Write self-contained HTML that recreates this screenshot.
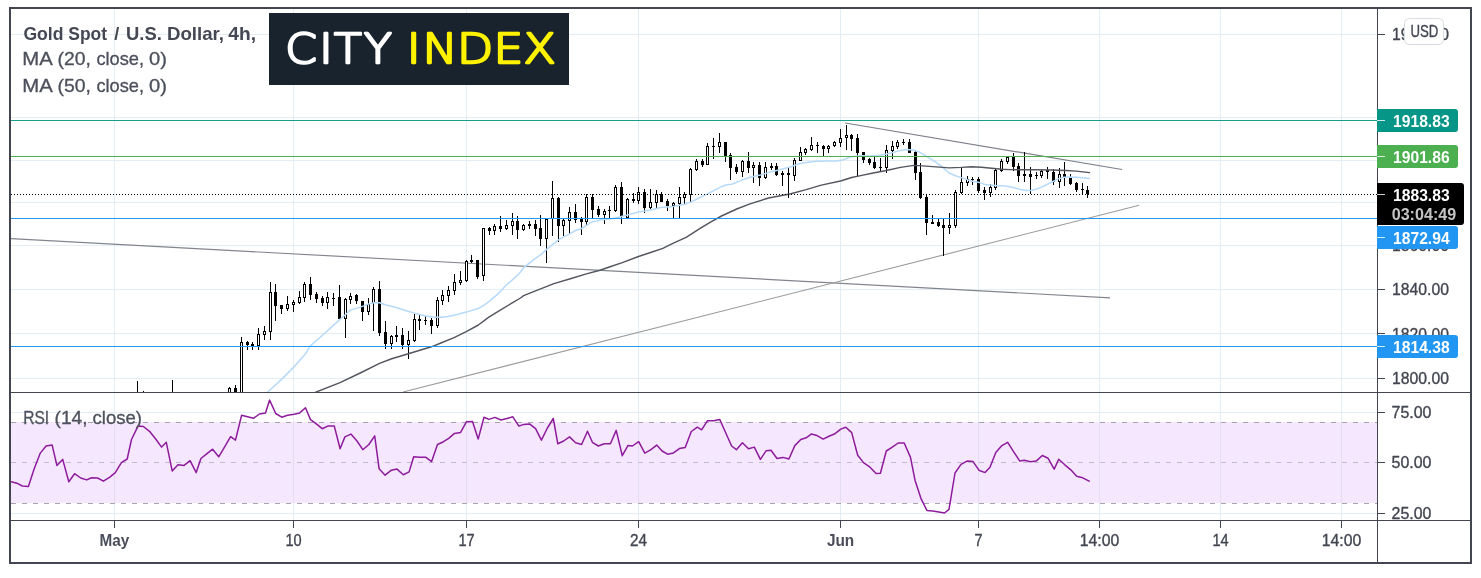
<!DOCTYPE html>
<html lang="en"><head><meta charset="utf-8"><title>Gold Spot / U.S. Dollar, 4h</title>
<style>html,body{margin:0;padding:0;background:#fff}body{width:1481px;height:578px;overflow:hidden}svg{display:block}text{white-space:pre}</style>
</head><body>
<svg width="1481" height="578" viewBox="0 0 1481 578" font-family="'Liberation Sans', Arial, sans-serif">
<rect width="1481" height="578" fill="#fff"/>
<defs><clipPath id="cm"><rect x="11" y="9" width="1366" height="383"/></clipPath><clipPath id="cr"><rect x="11" y="393" width="1366" height="127"/></clipPath></defs>
<g fill="#e3edf3" shape-rendering="crispEdges">
<rect x="114" y="9" width="1" height="511"/>
<rect x="293" y="9" width="1" height="511"/>
<rect x="466" y="9" width="1" height="511"/>
<rect x="638" y="9" width="1" height="511"/>
<rect x="840" y="9" width="1" height="511"/>
<rect x="978" y="9" width="1" height="511"/>
<rect x="1099" y="9" width="1" height="511"/>
<rect x="1220" y="9" width="1" height="511"/>
<rect x="1341" y="9" width="1" height="511"/>
<rect x="11" y="34" width="1366" height="1"/>
<rect x="11" y="117" width="1366" height="1"/>
<rect x="11" y="160" width="1366" height="1"/>
<rect x="11" y="202" width="1366" height="1"/>
<rect x="11" y="245" width="1366" height="1"/>
<rect x="11" y="289" width="1366" height="1"/>
<rect x="11" y="333" width="1366" height="1"/>
<rect x="11" y="378" width="1366" height="1"/>
<rect x="11" y="412" width="1366" height="1"/>
<rect x="11" y="462" width="1366" height="1"/>
<rect x="11" y="513" width="1366" height="1"/>
</g>
<rect x="11" y="422" width="1366" height="81" fill="#f5e7fe"/>
<g fill="#e4dcf1" shape-rendering="crispEdges">
<rect x="114" y="422" width="1" height="81"/>
<rect x="293" y="422" width="1" height="81"/>
<rect x="466" y="422" width="1" height="81"/>
<rect x="638" y="422" width="1" height="81"/>
<rect x="840" y="422" width="1" height="81"/>
<rect x="978" y="422" width="1" height="81"/>
<rect x="1099" y="422" width="1" height="81"/>
<rect x="1220" y="422" width="1" height="81"/>
<rect x="1341" y="422" width="1" height="81"/>
</g>
<g stroke="#a6a4ac" stroke-width="1" stroke-dasharray="5 6" shape-rendering="crispEdges">
<line x1="11" y1="422.5" x2="1377" y2="422.5"/>
<line x1="11" y1="503.5" x2="1377" y2="503.5"/>
<line x1="11" y1="462.5" x2="1377" y2="462.5" stroke="#c3bccf"/>
</g>
<g clip-path="url(#cm)">
<g stroke="#8a8c95" stroke-width="1.2" fill="none">
<line x1="10" y1="238.6" x2="1110" y2="297.8" stroke="#83858e" stroke-width="1.2"/>
<line x1="403" y1="392" x2="1139.2" y2="205.3" stroke="#9b9b9b" stroke-width="1.1"/>
<line x1="845.3" y1="123" x2="1122" y2="169.5" stroke="#7f818b" stroke-width="1.2"/>
</g>
<g shape-rendering="crispEdges" fill="#000">
<rect x="137" y="381" width="1" height="12"/>
<rect x="143" y="391" width="1" height="2"/>
<rect x="172" y="380" width="1" height="13"/>
<rect x="229" y="387" width="1" height="6"/>
<rect x="228" y="388" width="3" height="5"/>
<rect x="229" y="389" width="1" height="3" fill="#fff"/>
<rect x="235" y="385" width="1" height="8"/>
<rect x="234" y="388" width="3" height="5"/>
<rect x="241" y="337" width="1" height="56"/>
<rect x="240" y="342" width="3" height="51"/>
<rect x="241" y="343" width="1" height="49" fill="#fff"/>
<rect x="247" y="341" width="1" height="9"/>
<rect x="246" y="342" width="3" height="3"/>
<rect x="252" y="342" width="1" height="8"/>
<rect x="251" y="344" width="3" height="2"/>
<rect x="258" y="328" width="1" height="22"/>
<rect x="257" y="334" width="3" height="12"/>
<rect x="258" y="335" width="1" height="10" fill="#fff"/>
<rect x="264" y="326" width="1" height="14"/>
<rect x="263" y="331" width="3" height="4"/>
<rect x="264" y="332" width="1" height="2" fill="#fff"/>
<rect x="270" y="282" width="1" height="58"/>
<rect x="269" y="292" width="3" height="40"/>
<rect x="270" y="293" width="1" height="38" fill="#fff"/>
<rect x="275" y="284" width="1" height="37"/>
<rect x="274" y="292" width="3" height="14"/>
<rect x="281" y="305" width="1" height="9"/>
<rect x="280" y="305" width="3" height="4"/>
<rect x="287" y="296" width="1" height="15"/>
<rect x="286" y="304" width="3" height="5"/>
<rect x="287" y="305" width="1" height="3" fill="#fff"/>
<rect x="293" y="300" width="1" height="12"/>
<rect x="292" y="302" width="3" height="3"/>
<rect x="293" y="303" width="1" height="1" fill="#fff"/>
<rect x="299" y="291" width="1" height="13"/>
<rect x="298" y="297" width="3" height="6"/>
<rect x="299" y="298" width="1" height="4" fill="#fff"/>
<rect x="304" y="282" width="1" height="20"/>
<rect x="303" y="284" width="3" height="14"/>
<rect x="304" y="285" width="1" height="12" fill="#fff"/>
<rect x="310" y="277" width="1" height="23"/>
<rect x="309" y="284" width="3" height="11"/>
<rect x="316" y="292" width="1" height="11"/>
<rect x="315" y="294" width="3" height="5"/>
<rect x="322" y="296" width="1" height="10"/>
<rect x="321" y="298" width="3" height="5"/>
<rect x="327" y="292" width="1" height="17"/>
<rect x="326" y="297" width="3" height="6"/>
<rect x="327" y="298" width="1" height="4" fill="#fff"/>
<rect x="333" y="293" width="1" height="13"/>
<rect x="332" y="298" width="3" height="1"/>
<rect x="339" y="285" width="1" height="34"/>
<rect x="338" y="297" width="3" height="22"/>
<rect x="345" y="298" width="1" height="40"/>
<rect x="344" y="299" width="3" height="20"/>
<rect x="345" y="300" width="1" height="18" fill="#fff"/>
<rect x="350" y="293" width="1" height="11"/>
<rect x="349" y="296" width="3" height="4"/>
<rect x="350" y="297" width="1" height="2" fill="#fff"/>
<rect x="356" y="294" width="1" height="10"/>
<rect x="355" y="295" width="3" height="6"/>
<rect x="362" y="301" width="1" height="20"/>
<rect x="361" y="301" width="3" height="11"/>
<rect x="368" y="298" width="1" height="17"/>
<rect x="367" y="304" width="3" height="8"/>
<rect x="368" y="305" width="1" height="6" fill="#fff"/>
<rect x="373" y="287" width="1" height="44"/>
<rect x="372" y="289" width="3" height="14"/>
<rect x="373" y="290" width="1" height="12" fill="#fff"/>
<rect x="379" y="281" width="1" height="55"/>
<rect x="378" y="289" width="3" height="44"/>
<rect x="385" y="321" width="1" height="28"/>
<rect x="384" y="332" width="3" height="12"/>
<rect x="391" y="335" width="1" height="14"/>
<rect x="390" y="336" width="3" height="8"/>
<rect x="391" y="337" width="1" height="6" fill="#fff"/>
<rect x="396" y="326" width="1" height="16"/>
<rect x="395" y="335" width="3" height="2"/>
<rect x="402" y="328" width="1" height="21"/>
<rect x="401" y="335" width="3" height="10"/>
<rect x="408" y="331" width="1" height="28"/>
<rect x="407" y="340" width="3" height="5"/>
<rect x="408" y="341" width="1" height="3" fill="#fff"/>
<rect x="414" y="314" width="1" height="28"/>
<rect x="413" y="319" width="3" height="22"/>
<rect x="414" y="320" width="1" height="20" fill="#fff"/>
<rect x="419" y="315" width="1" height="15"/>
<rect x="418" y="319" width="3" height="2"/>
<rect x="425" y="316" width="1" height="9"/>
<rect x="424" y="320" width="3" height="1"/>
<rect x="431" y="318" width="1" height="16"/>
<rect x="430" y="320" width="3" height="6"/>
<rect x="437" y="297" width="1" height="31"/>
<rect x="436" y="300" width="3" height="26"/>
<rect x="437" y="301" width="1" height="24" fill="#fff"/>
<rect x="442" y="290" width="1" height="15"/>
<rect x="441" y="295" width="3" height="6"/>
<rect x="442" y="296" width="1" height="4" fill="#fff"/>
<rect x="448" y="286" width="1" height="16"/>
<rect x="447" y="290" width="3" height="6"/>
<rect x="448" y="291" width="1" height="4" fill="#fff"/>
<rect x="454" y="274" width="1" height="21"/>
<rect x="453" y="282" width="3" height="9"/>
<rect x="454" y="283" width="1" height="7" fill="#fff"/>
<rect x="460" y="271" width="1" height="14"/>
<rect x="459" y="280" width="3" height="3"/>
<rect x="460" y="281" width="1" height="1" fill="#fff"/>
<rect x="466" y="260" width="1" height="22"/>
<rect x="465" y="261" width="3" height="20"/>
<rect x="466" y="262" width="1" height="18" fill="#fff"/>
<rect x="471" y="255" width="1" height="8"/>
<rect x="470" y="260" width="3" height="2"/>
<rect x="477" y="260" width="1" height="19"/>
<rect x="476" y="260" width="3" height="17"/>
<rect x="483" y="228" width="1" height="53"/>
<rect x="482" y="228" width="3" height="48"/>
<rect x="483" y="229" width="1" height="46" fill="#fff"/>
<rect x="489" y="227" width="1" height="8"/>
<rect x="488" y="228" width="3" height="3"/>
<rect x="494" y="224" width="1" height="11"/>
<rect x="493" y="226" width="3" height="5"/>
<rect x="494" y="227" width="1" height="3" fill="#fff"/>
<rect x="500" y="216" width="1" height="16"/>
<rect x="499" y="226" width="3" height="3"/>
<rect x="506" y="220" width="1" height="10"/>
<rect x="505" y="225" width="3" height="4"/>
<rect x="506" y="226" width="1" height="2" fill="#fff"/>
<rect x="512" y="213" width="1" height="22"/>
<rect x="511" y="221" width="3" height="5"/>
<rect x="512" y="222" width="1" height="3" fill="#fff"/>
<rect x="517" y="216" width="1" height="23"/>
<rect x="516" y="221" width="3" height="9"/>
<rect x="523" y="224" width="1" height="7"/>
<rect x="522" y="225" width="3" height="5"/>
<rect x="523" y="226" width="1" height="3" fill="#fff"/>
<rect x="529" y="221" width="1" height="8"/>
<rect x="528" y="224" width="3" height="2"/>
<rect x="535" y="220" width="1" height="16"/>
<rect x="534" y="224" width="3" height="5"/>
<rect x="540" y="215" width="1" height="31"/>
<rect x="539" y="228" width="3" height="11"/>
<rect x="546" y="218" width="1" height="45"/>
<rect x="545" y="219" width="3" height="20"/>
<rect x="546" y="220" width="1" height="18" fill="#fff"/>
<rect x="552" y="181" width="1" height="55"/>
<rect x="551" y="198" width="3" height="21"/>
<rect x="552" y="199" width="1" height="19" fill="#fff"/>
<rect x="558" y="197" width="1" height="45"/>
<rect x="557" y="198" width="3" height="28"/>
<rect x="563" y="219" width="1" height="17"/>
<rect x="562" y="220" width="3" height="6"/>
<rect x="563" y="221" width="1" height="4" fill="#fff"/>
<rect x="569" y="207" width="1" height="27"/>
<rect x="568" y="212" width="3" height="9"/>
<rect x="569" y="213" width="1" height="7" fill="#fff"/>
<rect x="575" y="204" width="1" height="19"/>
<rect x="574" y="212" width="3" height="8"/>
<rect x="581" y="217" width="1" height="18"/>
<rect x="580" y="219" width="3" height="3"/>
<rect x="586" y="194" width="1" height="31"/>
<rect x="585" y="197" width="3" height="25"/>
<rect x="586" y="198" width="1" height="23" fill="#fff"/>
<rect x="592" y="194" width="1" height="24"/>
<rect x="591" y="197" width="3" height="13"/>
<rect x="598" y="206" width="1" height="11"/>
<rect x="597" y="209" width="3" height="6"/>
<rect x="604" y="209" width="1" height="15"/>
<rect x="603" y="211" width="3" height="4"/>
<rect x="604" y="212" width="1" height="2" fill="#fff"/>
<rect x="609" y="206" width="1" height="13"/>
<rect x="608" y="210" width="3" height="1"/>
<rect x="615" y="185" width="1" height="27"/>
<rect x="614" y="187" width="3" height="24"/>
<rect x="615" y="188" width="1" height="22" fill="#fff"/>
<rect x="621" y="182" width="1" height="42"/>
<rect x="620" y="187" width="3" height="29"/>
<rect x="627" y="198" width="1" height="21"/>
<rect x="626" y="199" width="3" height="19"/>
<rect x="627" y="200" width="1" height="17" fill="#fff"/>
<rect x="633" y="193" width="1" height="10"/>
<rect x="632" y="199" width="3" height="2"/>
<rect x="638" y="187" width="1" height="17"/>
<rect x="637" y="192" width="3" height="9"/>
<rect x="638" y="193" width="1" height="7" fill="#fff"/>
<rect x="644" y="189" width="1" height="24"/>
<rect x="643" y="192" width="3" height="16"/>
<rect x="650" y="189" width="1" height="20"/>
<rect x="649" y="202" width="3" height="6"/>
<rect x="650" y="203" width="1" height="4" fill="#fff"/>
<rect x="656" y="190" width="1" height="18"/>
<rect x="655" y="194" width="3" height="9"/>
<rect x="656" y="195" width="1" height="7" fill="#fff"/>
<rect x="661" y="192" width="1" height="10"/>
<rect x="660" y="194" width="3" height="8"/>
<rect x="667" y="199" width="1" height="12"/>
<rect x="666" y="201" width="3" height="5"/>
<rect x="673" y="202" width="1" height="16"/>
<rect x="672" y="203" width="3" height="3"/>
<rect x="673" y="204" width="1" height="1" fill="#fff"/>
<rect x="679" y="187" width="1" height="31"/>
<rect x="678" y="197" width="3" height="7"/>
<rect x="679" y="198" width="1" height="5" fill="#fff"/>
<rect x="684" y="192" width="1" height="12"/>
<rect x="683" y="194" width="3" height="4"/>
<rect x="684" y="195" width="1" height="2" fill="#fff"/>
<rect x="690" y="168" width="1" height="34"/>
<rect x="689" y="169" width="3" height="26"/>
<rect x="690" y="170" width="1" height="24" fill="#fff"/>
<rect x="696" y="159" width="1" height="12"/>
<rect x="695" y="161" width="3" height="9"/>
<rect x="696" y="162" width="1" height="7" fill="#fff"/>
<rect x="702" y="159" width="1" height="8"/>
<rect x="701" y="161" width="3" height="4"/>
<rect x="707" y="143" width="1" height="22"/>
<rect x="706" y="146" width="3" height="19"/>
<rect x="707" y="147" width="1" height="17" fill="#fff"/>
<rect x="713" y="138" width="1" height="21"/>
<rect x="712" y="146" width="3" height="1"/>
<rect x="719" y="133" width="1" height="20"/>
<rect x="718" y="142" width="3" height="5"/>
<rect x="719" y="143" width="1" height="3" fill="#fff"/>
<rect x="725" y="142" width="1" height="20"/>
<rect x="724" y="142" width="3" height="14"/>
<rect x="730" y="153" width="1" height="27"/>
<rect x="729" y="155" width="3" height="13"/>
<rect x="736" y="164" width="1" height="10"/>
<rect x="735" y="167" width="3" height="5"/>
<rect x="742" y="160" width="1" height="17"/>
<rect x="741" y="161" width="3" height="11"/>
<rect x="742" y="162" width="1" height="9" fill="#fff"/>
<rect x="748" y="152" width="1" height="21"/>
<rect x="747" y="161" width="3" height="7"/>
<rect x="753" y="162" width="1" height="21"/>
<rect x="752" y="165" width="3" height="3"/>
<rect x="753" y="166" width="1" height="1" fill="#fff"/>
<rect x="759" y="162" width="1" height="24"/>
<rect x="758" y="165" width="3" height="13"/>
<rect x="765" y="162" width="1" height="17"/>
<rect x="764" y="167" width="3" height="11"/>
<rect x="765" y="168" width="1" height="9" fill="#fff"/>
<rect x="771" y="163" width="1" height="7"/>
<rect x="770" y="166" width="3" height="2"/>
<rect x="776" y="163" width="1" height="13"/>
<rect x="775" y="166" width="3" height="9"/>
<rect x="782" y="171" width="1" height="15"/>
<rect x="781" y="173" width="3" height="2"/>
<rect x="788" y="168" width="1" height="30"/>
<rect x="787" y="173" width="3" height="2"/>
<rect x="794" y="158" width="1" height="23"/>
<rect x="793" y="160" width="3" height="16"/>
<rect x="794" y="161" width="1" height="14" fill="#fff"/>
<rect x="800" y="147" width="1" height="14"/>
<rect x="799" y="152" width="3" height="9"/>
<rect x="800" y="153" width="1" height="7" fill="#fff"/>
<rect x="805" y="148" width="1" height="7"/>
<rect x="804" y="149" width="3" height="4"/>
<rect x="805" y="150" width="1" height="2" fill="#fff"/>
<rect x="811" y="137" width="1" height="14"/>
<rect x="810" y="145" width="3" height="5"/>
<rect x="811" y="146" width="1" height="3" fill="#fff"/>
<rect x="817" y="142" width="1" height="11"/>
<rect x="816" y="145" width="3" height="1"/>
<rect x="823" y="145" width="1" height="11"/>
<rect x="822" y="146" width="3" height="3"/>
<rect x="828" y="145" width="1" height="8"/>
<rect x="827" y="146" width="3" height="3"/>
<rect x="828" y="147" width="1" height="1" fill="#fff"/>
<rect x="834" y="141" width="1" height="6"/>
<rect x="833" y="142" width="3" height="4"/>
<rect x="834" y="143" width="1" height="2" fill="#fff"/>
<rect x="840" y="129" width="1" height="18"/>
<rect x="839" y="138" width="3" height="5"/>
<rect x="840" y="139" width="1" height="3" fill="#fff"/>
<rect x="846" y="125" width="1" height="25"/>
<rect x="845" y="135" width="3" height="3"/>
<rect x="846" y="136" width="1" height="1" fill="#fff"/>
<rect x="851" y="134" width="1" height="17"/>
<rect x="850" y="135" width="3" height="4"/>
<rect x="857" y="134" width="1" height="43"/>
<rect x="856" y="138" width="3" height="15"/>
<rect x="863" y="152" width="1" height="11"/>
<rect x="862" y="152" width="3" height="8"/>
<rect x="869" y="158" width="1" height="7"/>
<rect x="868" y="159" width="3" height="4"/>
<rect x="874" y="156" width="1" height="13"/>
<rect x="873" y="162" width="3" height="6"/>
<rect x="880" y="158" width="1" height="13"/>
<rect x="879" y="167" width="3" height="1"/>
<rect x="886" y="145" width="1" height="28"/>
<rect x="885" y="150" width="3" height="18"/>
<rect x="886" y="151" width="1" height="16" fill="#fff"/>
<rect x="892" y="141" width="1" height="18"/>
<rect x="891" y="146" width="3" height="5"/>
<rect x="892" y="147" width="1" height="3" fill="#fff"/>
<rect x="897" y="140" width="1" height="9"/>
<rect x="896" y="142" width="3" height="5"/>
<rect x="897" y="143" width="1" height="3" fill="#fff"/>
<rect x="903" y="139" width="1" height="6"/>
<rect x="902" y="142" width="3" height="1"/>
<rect x="909" y="139" width="1" height="14"/>
<rect x="908" y="142" width="3" height="11"/>
<rect x="915" y="150" width="1" height="30"/>
<rect x="914" y="152" width="3" height="21"/>
<rect x="920" y="163" width="1" height="36"/>
<rect x="919" y="172" width="3" height="26"/>
<rect x="926" y="194" width="1" height="41"/>
<rect x="925" y="197" width="3" height="26"/>
<rect x="932" y="215" width="1" height="9"/>
<rect x="931" y="222" width="3" height="2"/>
<rect x="938" y="218" width="1" height="9"/>
<rect x="937" y="222" width="3" height="4"/>
<rect x="943" y="218" width="1" height="38"/>
<rect x="942" y="225" width="3" height="3"/>
<rect x="949" y="213" width="1" height="21"/>
<rect x="948" y="225" width="3" height="3"/>
<rect x="949" y="226" width="1" height="1" fill="#fff"/>
<rect x="955" y="190" width="1" height="38"/>
<rect x="954" y="192" width="3" height="34"/>
<rect x="955" y="193" width="1" height="32" fill="#fff"/>
<rect x="961" y="167" width="1" height="27"/>
<rect x="960" y="182" width="3" height="11"/>
<rect x="961" y="183" width="1" height="9" fill="#fff"/>
<rect x="967" y="176" width="1" height="10"/>
<rect x="966" y="179" width="3" height="4"/>
<rect x="967" y="180" width="1" height="2" fill="#fff"/>
<rect x="972" y="177" width="1" height="8"/>
<rect x="971" y="179" width="3" height="1"/>
<rect x="978" y="177" width="1" height="16"/>
<rect x="977" y="179" width="3" height="12"/>
<rect x="984" y="187" width="1" height="13"/>
<rect x="983" y="190" width="3" height="3"/>
<rect x="990" y="184" width="1" height="13"/>
<rect x="989" y="187" width="3" height="6"/>
<rect x="990" y="188" width="1" height="4" fill="#fff"/>
<rect x="995" y="168" width="1" height="22"/>
<rect x="994" y="170" width="3" height="18"/>
<rect x="995" y="171" width="1" height="16" fill="#fff"/>
<rect x="1001" y="159" width="1" height="13"/>
<rect x="1000" y="161" width="3" height="10"/>
<rect x="1001" y="162" width="1" height="8" fill="#fff"/>
<rect x="1007" y="156" width="1" height="8"/>
<rect x="1006" y="157" width="3" height="5"/>
<rect x="1007" y="158" width="1" height="3" fill="#fff"/>
<rect x="1013" y="153" width="1" height="18"/>
<rect x="1012" y="157" width="3" height="10"/>
<rect x="1018" y="163" width="1" height="19"/>
<rect x="1017" y="166" width="3" height="10"/>
<rect x="1024" y="152" width="1" height="30"/>
<rect x="1023" y="174" width="3" height="2"/>
<rect x="1030" y="167" width="1" height="27"/>
<rect x="1029" y="174" width="3" height="3"/>
<rect x="1036" y="172" width="1" height="7"/>
<rect x="1035" y="175" width="3" height="1"/>
<rect x="1041" y="170" width="1" height="8"/>
<rect x="1040" y="171" width="3" height="5"/>
<rect x="1041" y="172" width="1" height="3" fill="#fff"/>
<rect x="1047" y="167" width="1" height="12"/>
<rect x="1046" y="170" width="3" height="2"/>
<rect x="1053" y="169" width="1" height="16"/>
<rect x="1052" y="172" width="3" height="10"/>
<rect x="1059" y="168" width="1" height="20"/>
<rect x="1058" y="174" width="3" height="8"/>
<rect x="1059" y="175" width="1" height="6" fill="#fff"/>
<rect x="1064" y="162" width="1" height="24"/>
<rect x="1063" y="174" width="3" height="3"/>
<rect x="1070" y="174" width="1" height="11"/>
<rect x="1069" y="178" width="3" height="6"/>
<rect x="1076" y="182" width="1" height="10"/>
<rect x="1075" y="183" width="3" height="7"/>
<rect x="1082" y="183" width="1" height="11"/>
<rect x="1081" y="189" width="3" height="1"/>
<rect x="1087" y="186" width="1" height="12"/>
<rect x="1086" y="190" width="3" height="4"/>
</g>
<polyline points="267.6,392.2 282.3,378.6 293.4,367.4 305.6,353.7 310.1,346.1 322.8,335.0 336.4,322.6 344.5,315.5 350.6,309.9 359.7,307.4 368.8,303.9 375.1,302.4 379.6,302.7 385.2,304.8 395.3,307.3 405.4,310.5 415.6,313.4 425.7,315.9 432.8,316.9 440.9,317.2 448.0,316.6 456.1,314.7 466.2,312.1 477.4,308.8 484.5,304.8 489.5,301.2 492.2,298.6 496.6,295.1 501.7,290.1 505.3,286.0 518.5,274.4 524.6,266.8 532.7,260.3 540.8,254.7 546.9,249.1 558.0,240.2 563.8,236.8 569.3,234.1 575.4,230.5 581.5,228.5 586.5,225.4 591.6,221.9 596.7,220.9 600.0,220.1 613.2,218.4 625.3,215.6 638.5,212.0 650.6,210.0 660.8,207.5 672.9,206.5 686.1,203.9 691.2,201.9 701.3,196.8 711.4,191.8 721.5,186.7 726.6,184.7 731.7,184.2 741.8,180.1 750.0,177.3 760.5,174.9 770.6,171.9 780.8,169.4 790.9,166.8 799.0,163.8 806.1,162.5 816.2,161.3 826.3,161.1 836.5,161.1 843.6,159.8 850.7,156.7 861.8,155.7 870.1,156.1 880.3,155.3 890.4,153.2 900.5,150.4 907.6,149.4 912.7,150.0 918.7,151.7 925.8,155.8 933.9,160.8 941.0,165.9 949.1,173.0 956.2,176.0 964.3,178.6 971.4,181.1 979.5,182.6 985.1,184.5 995.3,185.5 1005.4,186.0 1013.5,187.5 1020.6,189.6 1025.6,190.6 1030.7,190.6 1036.8,189.1 1043.9,186.0 1051.0,182.5 1058.1,178.9 1064.1,177.2 1070.2,176.9 1076.3,177.2 1082.4,177.7 1089.5,178.4" fill="none" stroke="#b6dafa" stroke-width="1.5" stroke-linejoin="round" stroke-linecap="round"/>
<polyline points="315.7,392.2 340.0,382.6 361.3,372.5 379.5,363.4 391.7,358.8 410.0,353.2 431.4,346.8 440.9,343.0 454.1,337.7 466.2,331.6 478.4,325.0 488.5,317.4 496.6,312.3 511.8,303.2 520.5,298.0 523.6,295.7 538.7,289.6 553.9,283.6 571.2,278.5 586.4,273.9 600.0,270.2 610.1,266.7 622.3,262.6 638.5,256.5 650.6,252.5 662.8,248.4 672.9,243.4 686.1,237.3 701.3,227.7 711.4,221.6 721.5,216.0 736.7,209.0 750.0,203.9 768.6,198.0 790.9,193.7 806.1,189.6 821.3,185.1 840.5,181.0 851.7,177.5 861.8,175.4 873.2,173.0 886.3,170.5 900.5,167.4 913.7,165.4 922.8,165.9 936.0,166.9 949.1,167.9 961.3,167.4 971.4,166.7 981.5,167.2 991.7,168.2 1001.8,169.2 1010.0,169.6 1020.6,169.8 1035.8,169.8 1051.0,170.0 1066.2,170.5 1076.3,171.1 1089.5,172.6" fill="none" stroke="#54565f" stroke-width="1.45" stroke-linejoin="round" stroke-linecap="round"/>
<g shape-rendering="crispEdges">
<rect x="11" y="120" width="1366" height="1" fill="#1a9e8f"/>
<rect x="11" y="156" width="1366" height="1" fill="#4caf50"/>
<rect x="11" y="218" width="1366" height="1" fill="#2196f3"/>
<rect x="11" y="346" width="1366" height="1" fill="#2196f3"/>
<line x1="11" y1="194.5" x2="1377" y2="194.5" stroke="#000" stroke-width="1" stroke-dasharray="1 2"/>
</g>
</g>
<g clip-path="url(#cr)">
<polyline points="9.0,481.2 11.1,481.7 16.9,483.2 22.3,486.0 28.4,486.4 34.2,468.7 40.3,453.1 46.1,446.0 52.1,444.9 56.9,465.4 62.7,459.4 68.8,481.7 74.6,473.7 80.7,478.0 86.7,479.9 91.5,477.8 97.6,478.0 103.4,481.2 109.5,477.3 115.3,472.6 121.4,462.6 127.2,459.0 131.5,439.5 138.0,426.1 143.4,426.5 149.5,431.3 155.5,438.8 161.6,447.1 166.3,442.3 172.2,470.9 178.0,464.8 184.1,465.4 190.1,460.7 196.2,472.6 200.9,458.5 207.0,453.6 212.6,449.2 218.7,456.8 224.5,447.1 230.6,436.7 235.5,440.1 241.6,415.3 247.5,416.8 253.4,418.3 259.5,414.0 265.5,412.9 269.6,400.1 275.7,413.5 281.7,417.2 287.6,415.3 294.1,414.2 299.7,412.9 305.5,407.7 310.5,419.6 315.7,423.3 322.2,428.7 328.2,425.9 334.3,426.1 340.1,448.8 344.9,436.9 350.9,434.1 357.0,441.0 362.8,449.7 368.9,444.5 374.7,435.8 379.1,468.7 385.1,475.2 391.4,470.2 397.0,469.1 403.3,474.7 409.1,471.9 413.7,456.8 419.5,457.2 425.6,457.2 431.6,461.6 437.5,444.5 443.5,441.7 448.7,438.4 454.5,433.4 460.6,432.4 466.4,421.8 472.5,421.5 478.2,439.1 484.0,417.2 489.0,419.4 494.9,417.4 501.0,420.0 507.0,418.5 512.8,416.8 518.9,426.1 523.7,424.4 529.5,423.9 535.6,428.7 541.4,440.1 547.4,428.0 553.3,418.5 557.8,443.8 563.7,441.0 569.5,436.9 575.6,442.7 581.6,444.5 587.5,431.3 592.4,442.3 598.3,446.0 604.3,443.8 610.4,443.8 616.2,430.4 622.3,455.7 627.9,445.6 632.4,446.0 638.7,441.7 644.8,453.1 650.6,449.9 656.7,445.1 662.1,451.0 667.5,454.2 673.5,452.9 679.4,448.6 685.2,447.5 691.3,431.5 697.3,427.2 701.6,429.8 707.5,420.7 713.7,420.7 719.7,419.4 725.8,433.0 731.6,446.0 736.4,449.7 742.4,442.7 748.5,448.8 754.3,447.1 760.4,459.4 766.2,450.7 771.0,450.3 777.0,458.5 782.9,457.4 788.9,459.0 794.8,445.6 800.8,439.5 806.2,437.8 811.2,434.1 817.1,435.6 823.1,439.1 828.9,436.3 835.0,433.7 840.8,429.1 845.8,427.2 851.7,432.6 857.7,455.3 863.5,462.6 870.0,467.2 876.1,473.5 880.4,473.2 886.3,451.0 892.3,447.1 898.2,443.0 904.2,443.0 910.5,457.4 915.0,480.2 920.9,498.3 926.9,510.4 932.8,510.9 938.8,511.9 944.5,513.0 949.0,509.4 955.0,473.0 961.0,464.4 967.0,461.1 973.1,461.6 978.9,470.2 985.0,472.6 990.0,467.2 995.8,452.5 1001.9,445.6 1007.7,442.3 1013.7,451.8 1019.8,461.1 1024.3,460.3 1030.4,461.8 1036.2,461.1 1042.3,455.5 1048.1,458.3 1054.2,469.1 1058.7,459.2 1064.8,464.8 1070.8,469.8 1076.7,476.3 1082.7,477.8 1089.2,481.2" fill="none" stroke="#8e1b9c" stroke-width="1.5" stroke-linejoin="round" stroke-linecap="round"/>
</g>
<g fill="#434651" shape-rendering="crispEdges">
<rect x="11" y="392" width="1459" height="1"/>
<rect x="11" y="520" width="1459" height="1"/>
<rect x="1377" y="9" width="1" height="553"/>
<rect x="1378" y="34" width="7" height="1"/>
<rect x="1378" y="245" width="7" height="1"/>
<rect x="1378" y="289" width="7" height="1"/>
<rect x="1378" y="333" width="7" height="1"/>
<rect x="1378" y="378" width="7" height="1"/>
<rect x="1378" y="412" width="7" height="1"/>
<rect x="1378" y="462" width="7" height="1"/>
<rect x="1378" y="513" width="7" height="1"/>
<rect x="114" y="521" width="1" height="7"/>
<rect x="293" y="521" width="1" height="7"/>
<rect x="466" y="521" width="1" height="7"/>
<rect x="638" y="521" width="1" height="7"/>
<rect x="840" y="521" width="1" height="7"/>
<rect x="978" y="521" width="1" height="7"/>
<rect x="1099" y="521" width="1" height="7"/>
<rect x="1220" y="521" width="1" height="7"/>
<rect x="1341" y="521" width="1" height="7"/>
</g>
<text x="1392.1" y="40.1" font-size="16" font-weight="normal" fill="#434651" text-anchor="start" textLength="56.8" lengthAdjust="spacingAndGlyphs" stroke="#434651" stroke-width="0.35">1960.00</text>
<text x="1392.1" y="251.0" font-size="16" font-weight="normal" fill="#434651" text-anchor="start" textLength="56.8" lengthAdjust="spacingAndGlyphs" stroke="#434651" stroke-width="0.35">1860.00</text>
<text x="1392.1" y="295.3" font-size="16" font-weight="normal" fill="#434651" text-anchor="start" textLength="56.8" lengthAdjust="spacingAndGlyphs" stroke="#434651" stroke-width="0.35">1840.00</text>
<text x="1392.1" y="339.5" font-size="16" font-weight="normal" fill="#434651" text-anchor="start" textLength="56.8" lengthAdjust="spacingAndGlyphs" stroke="#434651" stroke-width="0.35">1820.00</text>
<text x="1392.1" y="384.1" font-size="16" font-weight="normal" fill="#434651" text-anchor="start" textLength="56.8" lengthAdjust="spacingAndGlyphs" stroke="#434651" stroke-width="0.35">1800.00</text>
<text x="1391.6" y="418.1" font-size="16" font-weight="normal" fill="#434651" text-anchor="start" textLength="39.8" lengthAdjust="spacingAndGlyphs" stroke="#434651" stroke-width="0.35">75.00</text>
<text x="1391.6" y="468.1" font-size="16" font-weight="normal" fill="#434651" text-anchor="start" textLength="39.8" lengthAdjust="spacingAndGlyphs" stroke="#434651" stroke-width="0.35">50.00</text>
<text x="1391.6" y="518.8" font-size="16" font-weight="normal" fill="#434651" text-anchor="start" textLength="39.8" lengthAdjust="spacingAndGlyphs" stroke="#434651" stroke-width="0.35">25.00</text>
<text x="99.6" y="545.8" font-size="16" font-weight="bold" fill="#4b4e5a" text-anchor="start" textLength="29.8" lengthAdjust="spacingAndGlyphs">May</text>
<text x="285.4" y="545.8" font-size="16" font-weight="normal" fill="#434651" text-anchor="start" textLength="16.2" lengthAdjust="spacingAndGlyphs" stroke="#434651" stroke-width="0.35">10</text>
<text x="458.4" y="545.8" font-size="16" font-weight="normal" fill="#434651" text-anchor="start" textLength="16.2" lengthAdjust="spacingAndGlyphs" stroke="#434651" stroke-width="0.35">17</text>
<text x="630.0" y="545.8" font-size="16" font-weight="normal" fill="#434651" text-anchor="start" textLength="17" lengthAdjust="spacingAndGlyphs" stroke="#434651" stroke-width="0.35">24</text>
<text x="826.9" y="545.8" font-size="16" font-weight="bold" fill="#4b4e5a" text-anchor="start" textLength="27.3" lengthAdjust="spacingAndGlyphs">Jun</text>
<text x="974.5" y="545.8" font-size="16" font-weight="normal" fill="#434651" text-anchor="start" textLength="8" lengthAdjust="spacingAndGlyphs" stroke="#434651" stroke-width="0.35">7</text>
<text x="1079.8" y="545.8" font-size="16" font-weight="normal" fill="#434651" text-anchor="start" textLength="39.5" lengthAdjust="spacingAndGlyphs" stroke="#434651" stroke-width="0.35">14:00</text>
<text x="1212.4" y="545.8" font-size="16" font-weight="normal" fill="#434651" text-anchor="start" textLength="16.2" lengthAdjust="spacingAndGlyphs" stroke="#434651" stroke-width="0.35">14</text>
<text x="1321.8" y="545.8" font-size="16" font-weight="normal" fill="#434651" text-anchor="start" textLength="39.5" lengthAdjust="spacingAndGlyphs" stroke="#434651" stroke-width="0.35">14:00</text>
<path d="M1377 109H1455a3 3 0 0 1 3 3V129a3 3 0 0 1 -3 3H1377Z" fill="#069687"/>
<rect x="1377" y="120" width="8" height="1" fill="#fff" fill-opacity="0.8" shape-rendering="crispEdges"/>
<text x="1393.1" y="127.0" font-size="16" font-weight="bold" fill="#fff" text-anchor="start" textLength="56.5" lengthAdjust="spacingAndGlyphs">1918.83</text>
<path d="M1377 145H1455a3 3 0 0 1 3 3V165a3 3 0 0 1 -3 3H1377Z" fill="#4caf50"/>
<rect x="1377" y="156" width="8" height="1" fill="#fff" fill-opacity="0.8" shape-rendering="crispEdges"/>
<text x="1393.1" y="163.0" font-size="16" font-weight="bold" fill="#fff" text-anchor="start" textLength="56.5" lengthAdjust="spacingAndGlyphs">1901.86</text>
<path d="M1377 226H1455a3 3 0 0 1 3 3V246a3 3 0 0 1 -3 3H1377Z" fill="#2196f3"/>
<rect x="1377" y="237" width="8" height="1" fill="#fff" fill-opacity="0.8" shape-rendering="crispEdges"/>
<text x="1393.1" y="244.0" font-size="16" font-weight="bold" fill="#fff" text-anchor="start" textLength="56.5" lengthAdjust="spacingAndGlyphs">1872.94</text>
<path d="M1377 335H1455a3 3 0 0 1 3 3V355a3 3 0 0 1 -3 3H1377Z" fill="#2196f3"/>
<rect x="1377" y="346" width="8" height="1" fill="#fff" fill-opacity="0.8" shape-rendering="crispEdges"/>
<text x="1393.1" y="353.0" font-size="16" font-weight="bold" fill="#fff" text-anchor="start" textLength="56.5" lengthAdjust="spacingAndGlyphs">1814.38</text>
<path d="M1377 183H1461a3 3 0 0 1 3 3V222a3 3 0 0 1 -3 3H1377Z" fill="#000"/>
<rect x="1377" y="194" width="8" height="1" fill="#fff" fill-opacity="0.8" shape-rendering="crispEdges"/>
<text x="1393.1" y="200.6" font-size="16" font-weight="bold" fill="#fff" text-anchor="start" textLength="56.5" lengthAdjust="spacingAndGlyphs">1883.83</text>
<text x="1391.7" y="219.6" font-size="16" font-weight="bold" fill="#c4c4c4" text-anchor="start" textLength="64.5" lengthAdjust="spacingAndGlyphs">03:04:49</text>
<rect x="1404.5" y="18.5" width="39" height="26" rx="5" fill="#fff" stroke="#d9dbe3" stroke-width="1"/>
<text x="1410.4" y="36.6" font-size="16.4" font-weight="normal" fill="#434651" text-anchor="start" textLength="27.9" lengthAdjust="spacingAndGlyphs" stroke="#434651" stroke-width="0.35">USD</text>
<path d="M10 8H1471V563H10Z" fill="none" stroke="#434651" stroke-width="2" shape-rendering="crispEdges"/>
<text y="40.0" font-size="18.6" font-weight="bold" fill="#454853"><tspan x="23.4" textLength="40.1" lengthAdjust="spacingAndGlyphs">Gold</tspan> <tspan x="68.3" textLength="38.7" lengthAdjust="spacingAndGlyphs">Spot</tspan> <tspan x="114.2" textLength="5.0" lengthAdjust="spacingAndGlyphs">/</tspan> <tspan x="126.0" textLength="35.8" lengthAdjust="spacingAndGlyphs">U.S.</tspan> <tspan x="167.0" textLength="57.0" lengthAdjust="spacingAndGlyphs">Dollar,</tspan> <tspan x="228.3" textLength="27.7" lengthAdjust="spacingAndGlyphs">4h,</tspan></text>
<text y="65.4" font-size="18.5" font-weight="normal" fill="#4d505c" stroke="#4d505c" stroke-width="0.3"><tspan x="22.2" textLength="29.4" lengthAdjust="spacingAndGlyphs">MA</tspan> <tspan x="57.5" textLength="33.4" lengthAdjust="spacingAndGlyphs">(20,</tspan> <tspan x="96.4" textLength="47.6" lengthAdjust="spacingAndGlyphs">close,</tspan> <tspan x="149.0" textLength="17.9" lengthAdjust="spacingAndGlyphs">0)</tspan></text>
<text y="91.6" font-size="18.5" font-weight="normal" fill="#4d505c" stroke="#4d505c" stroke-width="0.3"><tspan x="22.2" textLength="29.4" lengthAdjust="spacingAndGlyphs">MA</tspan> <tspan x="57.5" textLength="33.4" lengthAdjust="spacingAndGlyphs">(50,</tspan> <tspan x="96.4" textLength="47.6" lengthAdjust="spacingAndGlyphs">close,</tspan> <tspan x="149.0" textLength="17.9" lengthAdjust="spacingAndGlyphs">0)</tspan></text>
<text y="423.8" font-size="18.3" font-weight="normal" fill="#4f525e" stroke="#4f525e" stroke-width="0.3"><tspan x="23.2" textLength="26.0" lengthAdjust="spacingAndGlyphs">RSI</tspan> <tspan x="54.6" textLength="33.0" lengthAdjust="spacingAndGlyphs">(14,</tspan> <tspan x="92.6" textLength="49.4" lengthAdjust="spacingAndGlyphs">close)</tspan></text>
<rect x="269" y="13" width="300" height="72" fill="#19232d"/>
<text transform="scale(1.12 1)" x="254.75 285.03 298.27 325.08" y="63.5" font-family="'DejaVu Sans Light', 'DejaVu Sans', 'Liberation Sans', sans-serif" font-weight="200" font-size="40.6" fill="#fff" stroke="#fff" stroke-width="2.34" stroke-linejoin="round" stroke-linecap="round">CITY</text>
<text transform="scale(1.16 1)" x="350.60 364.29 394.07 425.40 451.30" y="63.5" font-family="'DejaVu Sans Light', 'DejaVu Sans', 'Liberation Sans', sans-serif" font-weight="200" font-size="40.6" fill="#fff200" stroke="#fff200" stroke-width="2.29" stroke-linejoin="round" stroke-linecap="round">INDEX</text>
</svg>
</body></html>
